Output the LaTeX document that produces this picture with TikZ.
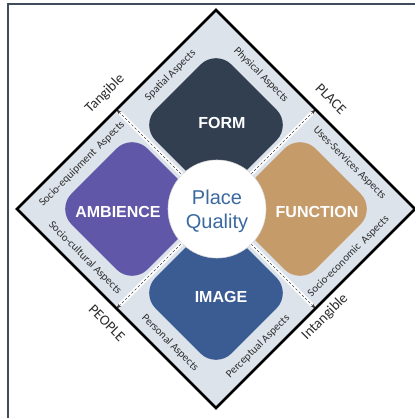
\documentclass[tikz,border=0pt]{standalone}
\usepackage{fontspec}
\setmainfont{Carlito}
\newfontfamily\arialfont{Liberation Sans}
\usetikzlibrary{shapes.geometric,arrows.meta,calc}
\definecolor{bandc}{RGB}{221,227,235}
\definecolor{framec}{RGB}{62,76,92}
\definecolor{formc}{RGB}{50,63,81}
\definecolor{ambc}{RGB}{96,87,168}
\definecolor{funcc}{RGB}{198,155,106}
\definecolor{imgc}{RGB}{59,92,146}
\definecolor{pqc}{RGB}{59,106,161}
\definecolor{txtc}{RGB}{45,45,45}
\tikzset{
  petal/.style={diamond, aspect=1, minimum width=152pt, minimum height=152pt, inner sep=0pt, rounded corners=22pt},
  bigword/.style={font=\arialfont\bfseries\fontsize{16}{19}\selectfont, text=white},
  aspect/.style={font=\fontsize{11}{13}\selectfont, text=txtc, inner sep=0pt},
  axislbl/.style={font=\fontsize{14.5}{17}\selectfont, text=txtc, inner sep=0pt},
  guide/.style={dashed, dash pattern=on 2.5pt off 2pt, draw=black!75, line width=0.6pt, -{Stealth[length=5pt,width=4pt]}},
  guidebg/.style={draw=white, line width=4pt}
}
\begin{document}
\begin{tikzpicture}[x=1pt,y=-1pt]
\useasboundingbox (0,0) rectangle (415,418);
% frame
\draw[framec, line width=2pt] (8,418) -- (8,4) -- (416,4);
% outer diamond
\coordinate (dt) at (216,10);
\coordinate (dr) at (415,209);
\coordinate (db) at (216,408);
\coordinate (dl) at (17,209);
\fill[bandc] (dt) -- (dr) -- (db) -- (dl) -- cycle;
% edge midpoints
\coordinate (mtl) at ($(dt)!0.5!(dl)$);
\coordinate (mtr) at ($(dt)!0.5!(dr)$);
\coordinate (mbl) at ($(db)!0.5!(dl)$);
\coordinate (mbr) at ($(db)!0.5!(dr)$);
\coordinate (ctr) at (216,209);
% guides
\foreach \m in {mtl,mtr,mbl,mbr}{\draw[guidebg] (ctr) -- (\m);}
\foreach \m in {mtl,mtr,mbl,mbr}{\draw[guide] (ctr) -- (\m);}
% petals
\node[petal, fill=formc] (form) at (216,125) {};
\node[petal, fill=ambc] (amb) at (132,209) {};
\node[petal, fill=funcc] (func) at (300,209) {};
\node[petal, fill=imgc] (img) at (216,293) {};
% outline
\draw[black, line width=2.5pt, line join=miter] (dt) -- (dr) -- (db) -- (dl) -- cycle;
% circle
\node[circle, fill=white, draw=black!15, line width=0.6pt, minimum size=98pt, inner sep=0pt] (pq) at (217,209) {};
\node[font=\arialfont\fontsize{20}{24}\selectfont, text=pqc, align=center, inner sep=0pt] (pqt) at (217,211) {Place\\Quality};
% big words
\node[bigword] (formt) at (222,123) {FORM};
\node[bigword] (ambt) at (118,212) {AMBIENCE};
\node[bigword] (funct) at (317,212) {FUNCTION};
\node[bigword] (imgt) at (221,297) {IMAGE};
% aspect labels
\node[aspect, rotate=45] (a1) at (170.5,75.5) {Spatial Aspects};
\node[aspect, rotate=45] (a2) at (82,164) {Socio-equipment\ \ Aspects};
\node[aspect, rotate=-45] (a3) at (261,75) {Physical Aspects};
\node[aspect, rotate=-45] (a4) at (349.5,163) {Uses-Services Aspects};
\node[aspect, rotate=-45] (a5) at (85,258) {Socio-cultural Aspects};
\node[aspect, rotate=-45] (a6) at (170,343) {Personal Aspects};
\node[aspect, rotate=45] (a7) at (348.5,256.5) {Socio-economic\ \ Aspects};
\node[aspect, rotate=45] (a8) at (258,346.5) {Perceptual Aspects};
% axis labels
\node[axislbl, rotate=45] (tang) at (105,94) {Tangible};
\node[axislbl, rotate=-45] (place) at (331,99) {PLACE};
\node[axislbl, rotate=-45] (people) at (107,323) {PEOPLE};
\node[axislbl, rotate=45] (intang) at (325,317) {Intangible};
\end{tikzpicture}
\end{document}
